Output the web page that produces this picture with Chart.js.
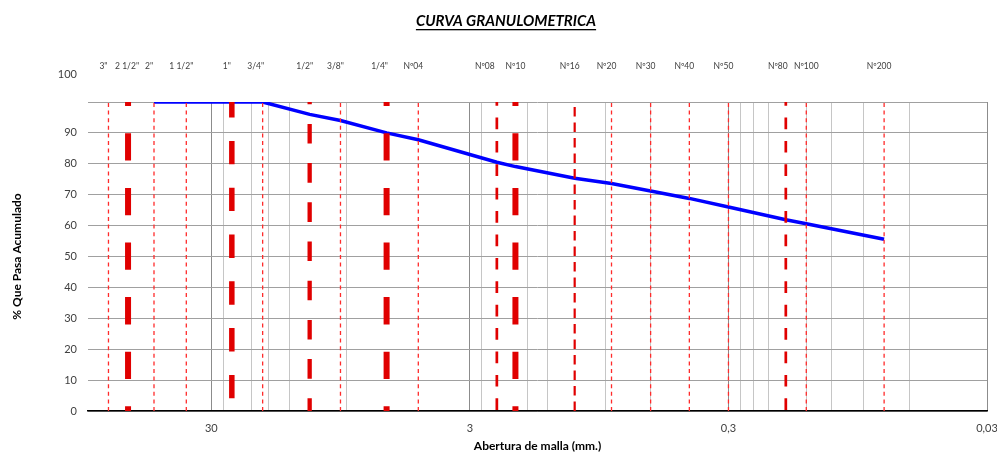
<!DOCTYPE html>
<html lang="es">
<head>
<meta charset="UTF-8">
<title>Curva granulometrica</title>
<style>
  html, body { margin: 0; padding: 0; background: #fff; }
  #wrap { width: 997px; height: 455px; }
</style>
</head>
<body>
<div id="wrap"><canvas id="chart" width="997" height="455"></canvas></div>

<script src="https://cdn.jsdelivr.net/npm/chart.js@4.4.1/dist/chart.umd.js"></script>
<script>
// Tamices: nombre y abertura (mm)
const sieveNames = ['3"', '2 1/2"', '2"', '1 1/2"', '1"', '3/4"', '1/2"', '3/8"', '1/4"', 'Nº04',
                    'Nº08', 'Nº10', 'Nº16', 'Nº20', 'Nº30', 'Nº40', 'Nº50', 'Nº80', 'Nº100', 'Nº200'];
const sieveSizes = [75, 63, 50, 37.5, 25, 19, 12.5, 9.5, 6.3, 4.75,
                    2.36, 2.0, 1.18, 0.85, 0.6, 0.425, 0.3, 0.18, 0.15, 0.075];

// Curva granulometrica: abertura (mm) y % que pasa acumulado
const curveSizes = [50, 37.5, 25, 19, 12.5, 9.5, 6.3, 4.75, 2.36, 2.0,
                    1.18, 0.85, 0.6, 0.425, 0.3, 0.18, 0.15, 0.075];
const curvePassing = [100, 100, 100, 100, 96, 94, 90, 87.8, 80.5, 79.1,
                      75.3, 73.6, 71.2, 68.8, 66, 61.9, 60.6, 55.6];

// Ejes
const xTickValues = [30, 3, 0.3, 0.03];
const xTickLabels = ['30', '3', '0,3', '0,03'];
const xMin = 0.03, xMax = 90;
const yMin = 0, yMax = 100, yStep = 10;

const chartTitle = 'CURVA GRANULOMETRICA';
const xTitle = 'Abertura de malla (mm.)';
const yTitle = '% Que Pasa Acumulado';

// estilo de la linea vertical de cada tamiz (por defecto: punteada fina)
const sieveStyle = {
  '2 1/2"': 'heavy', '1/4"': 'heavy', 'Nº10': 'heavy',
  '1"': 'heavy5', '1/2"': 'heavy4',
  'Nº08': 'medium', 'Nº80': 'medium', 'Nº16': 'dashed'
};
const lineStyles = {
  thin:   { borderColor: '#ff2b2b', borderWidth: 1.3, borderDash: [4, 3.6], borderDashOffset: 0 },
  heavy:  { borderColor: '#e00000', borderWidth: 6, borderDash: [27.3, 27.3], borderDashOffset: 22.6 },
  heavy5: { borderColor: '#e00000', borderWidth: 5.5, borderDash: [23.4, 23.4], borderDashOffset: 34.1 },
  heavy4: { borderColor: '#e00000', borderWidth: 4.3, borderDash: [19.6, 19.6], borderDashOffset: 6.9 },
  medium: { borderColor: '#e00000', borderWidth: 2.7, borderDash: [11.7, 11.7], borderDashOffset: 22.4 },
  dashed: { borderColor: '#e00000', borderWidth: 2.2, borderDash: [9.5, 6], borderDashOffset: 0 }
};
// desplazamiento horizontal (px) de los nombres de tamiz respecto a su linea
const labelShift = { '2 1/2"': -1, '3/4"': -7, '1/4"': -7, 'Nº08': -12, 'Nº10': 0, 'Nº80': -8, 'Nº100': 0 };
const defaultShift = -5;

const FONT = 'Lato, "Open Sans", sans-serif';
const TEXT = '#404040';

// lineas secundarias de la reticula que quedan tapadas por las lineas gruesas
const heavySizes = sieveSizes.filter((s, i) => sieveStyle[sieveNames[i]]);
const hiddenByHeavy = v => heavySizes.some(s => Math.max(s / v, v / s) < 1.06);

const sieveDatasets = sieveNames.map((name, i) => Object.assign({
  label: name,
  data: [{ x: sieveSizes[i], y: yMin }, { x: sieveSizes[i], y: yMax }],
  pointRadius: 0,
  fill: false,
  borderCapStyle: 'butt'
}, lineStyles[sieveStyle[name] || 'thin']));

const curveDataset = {
  label: 'Curva',
  data: curveSizes.map((s, i) => ({ x: s, y: curvePassing[i] })),
  borderColor: '#0000ff',
  borderWidth: 3.5,
  pointRadius: 0,
  fill: false,
  tension: 0
};

const textPlugin = {
  id: 'textPlugin',
  afterDraw(chart) {
    const { ctx, chartArea, scales: { x, y } } = chart;
    ctx.save();
    // titulo subrayado
    ctx.font = 'italic bold 15px ' + FONT;
    ctx.fillStyle = '#000';
    ctx.textAlign = 'center';
    ctx.textBaseline = 'middle';
    const tx = 506, ty = 21;
    ctx.fillText(chartTitle, tx, ty);
    const w = ctx.measureText(chartTitle).width;
    ctx.fillRect(tx - w / 2, ty + 8, w, 1.3);

    // nombres de tamices
    ctx.font = '8.5px ' + FONT;
    ctx.fillStyle = TEXT;
    sieveNames.forEach((n, i) => {
      const dx = n in labelShift ? labelShift[n] : defaultShift;
      ctx.fillText(n, x.getPixelForValue(sieveSizes[i]) + dx, chartArea.top - 36);
    });

    // etiqueta 100
    ctx.font = '11px ' + FONT;
    ctx.textAlign = 'right';
    ctx.fillText(String(yMax), chartArea.left - 11, y.getPixelForValue(yMax) - 28);
    ctx.restore();
  }
};

new Chart(document.getElementById('chart'), {
  type: 'line',
  data: { datasets: sieveDatasets.concat([curveDataset]) },
  options: {
    responsive: false,
    animation: false,
    layout: { padding: { top: 102, right: 10, bottom: 0, left: 0 } },
    plugins: { legend: { display: false }, tooltip: { enabled: false } },
    scales: {
      x: {
        type: 'logarithmic',
        reverse: true,
        min: xMin,
        max: xMax,
        afterBuildTicks: scale => {
          const vals = [];
          xTickValues.forEach(m => {
            vals.push(m);
            for (let k = 2; k <= 9; k++) {
              if (m * k < xMax * 0.999) vals.push(m * k);
            }
          });
          vals.sort((a, b) => a - b);
          scale.ticks = vals.map(v => ({ value: v, major: xTickValues.includes(v) }));
        },
        afterFit: scale => { scale.height = 44; },
        ticks: {
          autoSkip: false,
          maxRotation: 0,
          padding: 11,
          color: TEXT,
          font: { family: FONT, size: 11 },
          callback: (value) => {
            const i = xTickValues.findIndex(v => Math.abs(v - value) / v < 1e-6);
            return i >= 0 ? xTickLabels[i] : '';
          }
        },
        grid: {
          drawTicks: false,
          color: c => {
            if (!c.tick) return '#c6c6c6';
            if (c.tick.major) return '#8c8c8c';
            return hiddenByHeavy(c.tick.value) ? 'rgba(0,0,0,0)' : '#c6c6c6';
          },
          lineWidth: 1
        },
        border: { display: true, color: '#000', width: 1.5 },
        title: {
          display: true,
          text: xTitle,
          color: '#000',
          font: { family: FONT, size: 12, weight: 'bold' },
          padding: { top: 0, bottom: 1.5 }
        }
      },
      y: {
        min: yMin,
        max: yMax,
        afterFit: scale => { scale.width = 88; },
        ticks: {
          stepSize: yStep,
          padding: 11,
          color: TEXT,
          font: { family: FONT, size: 11 },
          callback: v => (v === yMax ? '' : v)
        },
        grid: { drawTicks: false, color: '#a0a0a0', lineWidth: 1 },
        border: { display: false },
        title: {
          display: true,
          text: yTitle,
          color: '#000',
          font: { family: FONT, size: 12, weight: 'bold' },
          padding: { top: 10, bottom: 0 }
        }
      }
    }
  },
  plugins: [textPlugin]
});
</script>
</body>
</html>
